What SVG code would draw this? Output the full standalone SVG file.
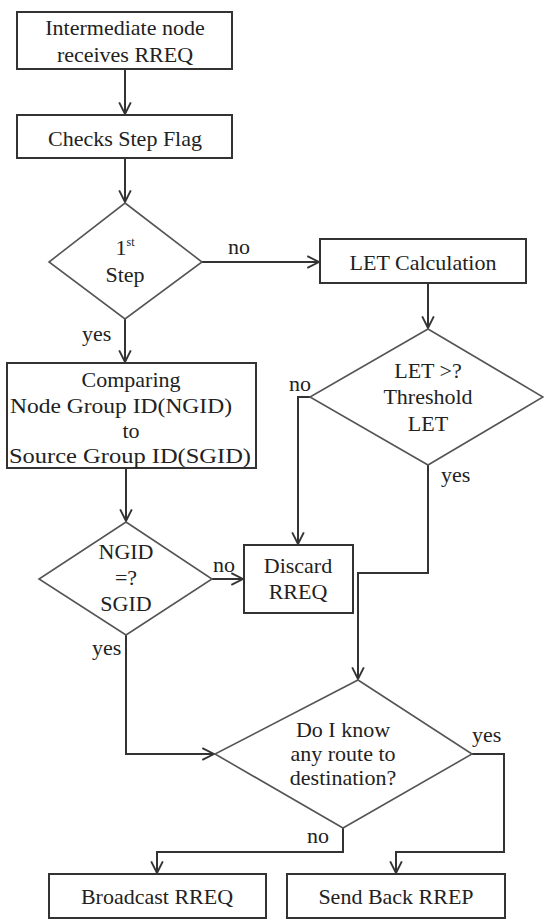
<svg xmlns="http://www.w3.org/2000/svg" width="544" height="919" viewBox="0 0 544 919">
<style>
.box{fill:#fff;stroke:#333;stroke-width:2}
.dia{fill:#fff;stroke:#555;stroke-width:1.6}
text{font-family:'Liberation Serif','Times New Roman',serif;font-size:22px;fill:#222}
.t{text-anchor:middle}
.c{fill:none;stroke:#333;stroke-width:2;marker-end:url(#arr)}
</style>
<defs>
<marker id="arr" markerUnits="userSpaceOnUse" markerWidth="14" markerHeight="14" viewBox="0 0 12 12" refX="11" refY="6" orient="auto">
<path d="M1,1 L11,6 L1,11" fill="none" stroke="#333" stroke-width="1.6"/>
</marker>
</defs>
<rect width="544" height="919" fill="#fff"/>
<g id="connectors">
<path class="c" d="M125,69 V114"/>
<path class="c" d="M125,158 V202"/>
<path class="c" d="M202,262 H319"/>
<path class="c" d="M125,319 V362"/>
<path class="c" d="M428,283 V328"/>
<path class="c" d="M310,397 H298 V544"/>
<path class="c" d="M428,465 V573 H358 V679"/>
<path class="c" d="M126,468 V521"/>
<path class="c" d="M212,579 H243"/>
<path class="c" d="M126,635 V754 H214"/>
<path class="c" d="M343,828 V852 H157 V873"/>
<path class="c" d="M472,754 H504 V852 H396 V873"/>
<text x="228" y="254">no</text>
<text x="82" y="341">yes</text>
<text x="289" y="391">no</text>
<text x="441" y="482">yes</text>
<text x="213" y="572">no</text>
<text x="92" y="655">yes</text>
<text x="472" y="742">yes</text>
<text x="307" y="843">no</text>
</g>
<g id="n1"><rect class="box" x="17" y="12" width="215" height="57"/>
<text class="t" x="125" y="35">Intermediate node</text><text class="t" x="125" y="62">receives RREQ</text></g>
<g id="n2"><rect class="box" x="17" y="115" width="215" height="43"/>
<text class="t" x="125" y="146">Checks Step Flag</text></g>
<g id="d1"><polygon class="dia" points="125,203 202,262 125,319 49,262"/>
<text class="t" x="125" y="255">1<tspan font-size="12" dy="-9">st</tspan></text><text class="t" x="125" y="282">Step</text></g>
<g id="n3"><rect class="box" x="320" y="239" width="206" height="44"/>
<text class="t" x="423" y="270">LET Calculation</text></g>
<g id="d2"><polygon class="dia" points="428,329 543,397 428,465 310,397"/>
<text class="t" x="428" y="378">LET &gt;?</text><text class="t" x="428" y="404">Threshold</text><text class="t" x="428" y="431">LET</text></g>
<g id="n4"><rect class="box" x="7" y="363" width="249" height="105"/>
<text class="t" x="131" y="387">Comparing</text><text class="t" x="121" y="413" textLength="222" lengthAdjust="spacingAndGlyphs">Node Group ID(NGID)</text><text class="t" x="131" y="438">to</text><text class="t" x="130" y="463" textLength="242" lengthAdjust="spacingAndGlyphs">Source Group ID(SGID)</text></g>
<g id="d3"><polygon class="dia" points="126,522 212,579 126,635 39,579"/>
<text class="t" x="126" y="559">NGID</text><text class="t" x="126" y="585">=?</text><text class="t" x="126" y="611">SGID</text></g>
<g id="n5"><rect class="box" x="244" y="545" width="109" height="68"/>
<text class="t" x="298" y="573">Discard</text><text class="t" x="298" y="599">RREQ</text></g>
<g id="d4"><polygon class="dia" points="358,680 472,754 343,828 215,754"/>
<text class="t" x="343" y="737">Do I know</text><text class="t" x="343" y="761">any route to</text><text class="t" x="343" y="785">destination?</text></g>
<g id="n6"><rect class="box" x="49" y="874" width="217" height="44"/>
<text class="t" x="157" y="904">Broadcast RREQ</text></g>
<g id="n7"><rect class="box" x="287" y="874" width="218" height="44"/>
<text class="t" x="396" y="904">Send Back RREP</text></g>
</svg>
